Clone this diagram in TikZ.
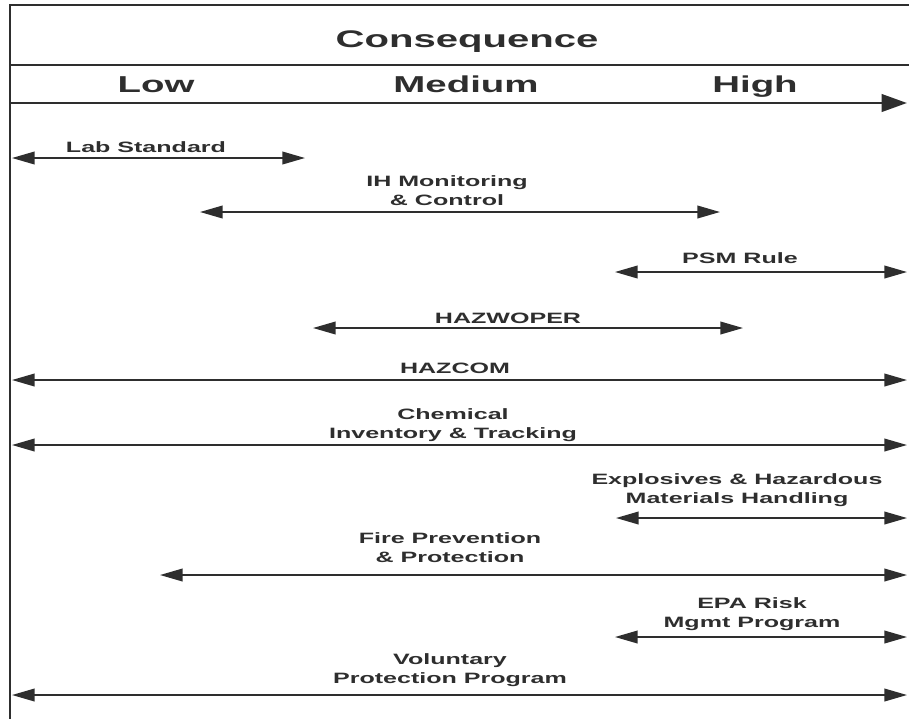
\documentclass[tikz,border=0pt]{standalone}
\usepackage{fontspec}
\setmainfont{Liberation Sans}[FakeStretch=1.67]
\usetikzlibrary{arrows.meta}
\definecolor{ink}{HTML}{2E2E2E}
\begin{document}
\begin{tikzpicture}[x=0.75pt,y=-0.75pt,
  lbl/.style={font=\bfseries\fontsize{11.25}{14.25}\selectfont, text=ink, align=center, inner sep=0pt, anchor=base},
  hdr/.style={font=\bfseries\fontsize{17.25}{20}\selectfont, text=ink, inner sep=0pt, anchor=base},
  frameline/.style={draw=ink, line width=1.8pt},
  rangearrow/.style={draw=ink, line width=1.3pt, {Triangle[length=17pt,width=9.5pt]}-{Triangle[length=17pt,width=9.5pt]}},
  mainaxis/.style={draw=ink, line width=2.2pt, -{Triangle[length=19pt,width=13pt]}}]
\useasboundingbox (0,0) rectangle (909,719);
% frame
\coordinate (tl) at (10,5);
\coordinate (tr) at (909,5);
\coordinate (bl) at (10,719);
\coordinate (ml) at (10,65);
\coordinate (mr) at (909,65);
\draw[frameline] (tr) -- (tl) -- (bl);
\draw[frameline] (ml) -- (mr);
% header
\node[hdr, font=\bfseries\fontsize{18}{20}\selectfont] (cons) at (467,47) {Consequence};
\node[hdr] (low) at (156,92) {Low};
\node[hdr] (med) at (466,92) {Medium};
\node[hdr] (high) at (755,92) {High};
\coordinate (ax1) at (10,103);
\coordinate (ax2) at (907,103);
\draw[mainaxis] (ax1) -- (ax2);
% ranges (anchor=base is the baseline of the last line)
\node[lbl] (lab) at (146,152) {Lab Standard};
\coordinate (lab1) at (12,158); \coordinate (lab2) at (305,158);
\draw[rangearrow] (lab1) -- (lab2);

\node[lbl] (ih) at (447,205) {IH Monitoring\\ \& Control};
\coordinate (ih1) at (200,212); \coordinate (ih2) at (720,212);
\draw[rangearrow] (ih1) -- (ih2);

\node[lbl] (psm) at (740,263) {PSM Rule};
\coordinate (psm1) at (615,272); \coordinate (psm2) at (907,272);
\draw[rangearrow] (psm1) -- (psm2);

\node[lbl] (hw) at (508,323) {HAZWOPER};
\coordinate (hw1) at (313,328); \coordinate (hw2) at (743,328);
\draw[rangearrow] (hw1) -- (hw2);

\node[lbl] (hc) at (455,373) {HAZCOM};
\coordinate (hc1) at (12,380); \coordinate (hc2) at (907,380);
\draw[rangearrow] (hc1) -- (hc2);

\node[lbl] (chem) at (453,438) {Chemical\\Inventory \& Tracking};
\coordinate (chem1) at (12,445); \coordinate (chem2) at (907,445);
\draw[rangearrow] (chem1) -- (chem2);

\node[lbl] (expl) at (737,503) {Explosives \& Hazardous\\Materials Handling};
\coordinate (expl1) at (616,518); \coordinate (expl2) at (907,518);
\draw[rangearrow] (expl1) -- (expl2);

\node[lbl] (fire) at (450,562) {Fire Prevention\\ \& Protection};
\coordinate (fire1) at (160,575); \coordinate (fire2) at (907,575);
\draw[rangearrow] (fire1) -- (fire2);

\node[lbl] (epa) at (752,627) {EPA Risk\\Mgmt Program};
\coordinate (epa1) at (615,637); \coordinate (epa2) at (907,637);
\draw[rangearrow] (epa1) -- (epa2);

\node[lbl] (vol) at (450,683) {Voluntary\\Protection Program};
\coordinate (vol1) at (12,695); \coordinate (vol2) at (907,695);
\draw[rangearrow] (vol1) -- (vol2);
\end{tikzpicture}
\end{document}
